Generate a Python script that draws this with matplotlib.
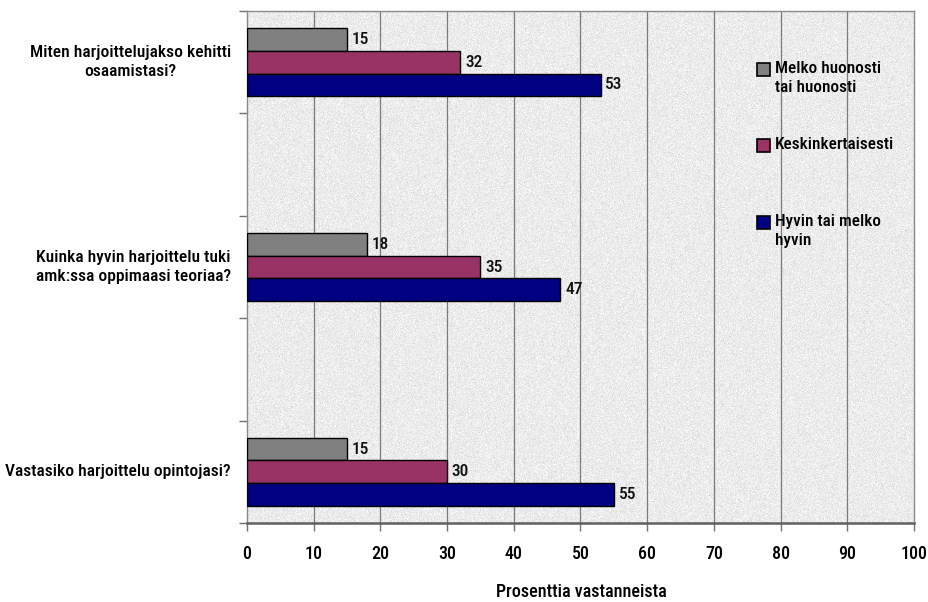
import numpy as np
import matplotlib
matplotlib.use("Agg")
import matplotlib.pyplot as plt
from matplotlib.patches import Rectangle

FONT = ['Roboto Condensed', 'Archivo Narrow', 'PT Sans Narrow', 'Liberation Sans Narrow', 'DejaVu Sans']
plt.rcParams['font.family'] = FONT

# Survey questions (top to bottom) and answer shares in percent
questions = [
    "Miten harjoittelujakso kehitti\nosaamistasi?",
    "Kuinka hyvin harjoittelu tuki\namk:ssa oppimaasi teoriaa?",
    "Vastasiko harjoittelu opintojasi?",
]
series_names = ["Melko huonosti\ntai huonosti", "Keskinkertaisesti", "Hyvin tai melko\nhyvin"]
poor = [15, 18, 15]
average = [32, 35, 30]
good = [53, 47, 55]
x_ticks = [0, 10, 20, 30, 40, 50, 60, 70, 80, 90, 100]
x_label = "Prosenttia vastanneista"

colors = ["#808080", "#993366", "#000080"]

W, H = 929, 602
fig = plt.figure(figsize=(W / 100, H / 100), dpi=100)
fig.patch.set_facecolor("white")

def fx(px):
    return px / W

def fy(py):
    return 1 - py / H

ax = fig.add_axes([fx(247), fy(523), fx(914) - fx(247), fy(11) - fy(523)])
ax.set_xlim(0, 100)
ax.set_ylim(0, 5)

# fine grainy paper-like background
rng = np.random.default_rng(3)
tex = 0.925 + 0.03 * rng.standard_normal((512, 667))
tex = np.clip(tex, 0.80, 1.0)
ax.imshow(np.dstack([tex, tex, tex]), extent=[0, 100, 0, 5], aspect='auto',
          zorder=0, interpolation='antialiased')

for xv in x_ticks[1:-1]:
    ax.axvline(xv, color="#7a7a7a", lw=0.9, zorder=1)

centers = [4.5, 2.5, 0.5]
bh = 0.222
offsets = [bh, 0.0, -bh]
for vals, col, off in zip([poor, average, good], colors, offsets):
    ys = [c + off for c in centers]
    ax.barh(ys, vals, height=bh, color=col, edgecolor="black", linewidth=1.0, zorder=3)
    for y, v in zip(ys, vals):
        ax.text(v + 0.7, y, str(v), va='center', ha='left', fontsize=12.5,
                fontweight='medium', color="#111111", zorder=4)

ax.set_xticks(x_ticks)
ax.set_xticklabels([str(t) for t in x_ticks], fontsize=13, fontweight='medium')
ax.set_yticks(range(6))
ax.set_yticklabels([])
ax.tick_params(axis='x', length=6, width=1, color="#707070", pad=10)
ax.tick_params(axis='y', length=6, width=1, color="#707070")

for side in ["top", "right", "left"]:
    ax.spines[side].set_color("#8a8a8a")
    ax.spines[side].set_linewidth(1.0)
ax.spines["bottom"].set_color("#606060")
ax.spines["bottom"].set_linewidth(1.8)

# category labels, right edge next to the axis, lines centred
for c, q in zip(centers, questions):
    y_px = 523 - c * (512 / 5)
    fig.text(fx(231), fy(y_px), q, ha='right', va='center', fontsize=12.6,
             fontweight='medium', multialignment='center', linespacing=1.3)

fig.text(fx(581), fy(592), x_label, ha='center', va='center', fontsize=13,
         fontweight='medium')

# legend
leg_rows = [63, 139, 216]
for top, col, name in zip(leg_rows, colors, series_names):
    fig.add_artist(Rectangle((fx(757), fy(top + 13)), fx(13), fy(0) - fy(13),
                             transform=fig.transFigure, facecolor=col,
                             edgecolor="black", linewidth=1.2))
    fig.text(fx(775), fy(top - 2), name, ha='left', va='top', fontsize=12.4,
             fontweight='medium', linespacing=1.35)

fig.savefig("out.png", dpi=100)
